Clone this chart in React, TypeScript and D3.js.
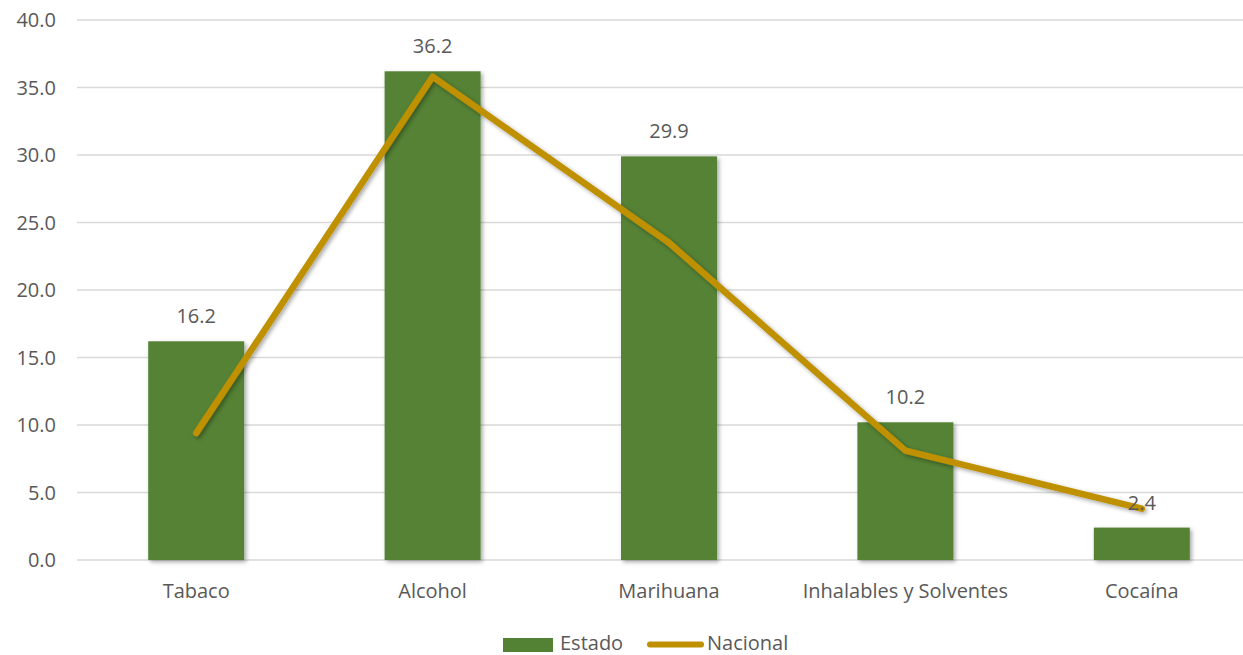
import React from "react";
import * as d3 from "d3";

const categories = ["Tabaco", "Alcohol", "Marihuana", "Inhalables y Solventes", "Cocaína"];
const estado = [16.2, 36.2, 29.9, 10.2, 2.4];
const nacional = [9.4, 35.8, 23.5, 8.1, 3.8];
const yTicks = [0, 5, 10, 15, 20, 25, 30, 35, 40];

const W = 1243;
const H = 655;
const FONT = "'Open Sans', sans-serif";
const FS = 20;
const TEXT = "#595959";
const GREEN = "#548235";
const GOLD = "#BF9000";

export default function App() {
  const x = d3.scaleBand<string>().domain(categories).range([78, 1260]).padding(0);
  const y = d3.scaleLinear().domain([0, 40]).range([560, 20]);
  const barW = x.bandwidth() * 0.406;
  const cx = (c: string) => (x(c) as number) + x.bandwidth() / 2;
  const line = d3
    .line<number>()
    .x((_, i) => cx(categories[i]))
    .y((d) => y(d));

  return (
    <svg width={W} height={H} style={{ position: "absolute", left: 0, top: 0, background: "#fff" }}>
      <defs>
        <filter id="sh" x="-20%" y="-20%" width="140%" height="140%">
          <feDropShadow dx="2" dy="2" stdDeviation="2" floodColor="#000" floodOpacity="0.35" />
        </filter>
      </defs>
      {yTicks.map((t) => (
        <g key={t}>
          <line x1={77} x2={W} y1={y(t)} y2={y(t)} stroke="#d9d9d9" strokeWidth={1.3} />
          <text x={56} y={y(t) + 7} textAnchor="end" fontFamily={FONT} fontSize={FS} fill={TEXT}>
            {t.toFixed(1)}
          </text>
        </g>
      ))}
      {categories.map((c, i) => (
        <g key={c}>
          <rect
            x={cx(c) - barW / 2}
            y={y(estado[i])}
            width={barW}
            height={y(0) - y(estado[i])}
            fill={GREEN}
            filter="url(#sh)"
          />
          <text x={cx(c)} y={598} textAnchor="middle" fontFamily={FONT} fontSize={FS} fill={TEXT}>
            {c}
          </text>
        </g>
      ))}
      <path
        d={line(nacional) || ""}
        fill="none"
        stroke={GOLD}
        strokeWidth={6.5}
        strokeLinecap="round"
        strokeLinejoin="round"
        filter="url(#sh)"
      />
      {categories.map((c, i) => (
        <text
          key={"l" + c}
          x={cx(c)}
          y={y(estado[i]) - 18}
          textAnchor="middle"
          fontFamily={FONT}
          fontSize={FS}
          fill={TEXT}
        >
          {estado[i].toFixed(1)}
        </text>
      ))}
      <g>
        <rect x={503} y={638} width={50} height={14} fill={GREEN} />
        <text x={560} y={650} fontFamily={FONT} fontSize={FS} fill={TEXT}>
          Estado
        </text>
        <line x1={650} x2={701} y1={644.5} y2={644.5} stroke={GOLD} strokeWidth={6} strokeLinecap="round" />
        <text x={707} y={650} fontFamily={FONT} fontSize={FS} fill={TEXT}>
          Nacional
        </text>
      </g>
    </svg>
  );
}
